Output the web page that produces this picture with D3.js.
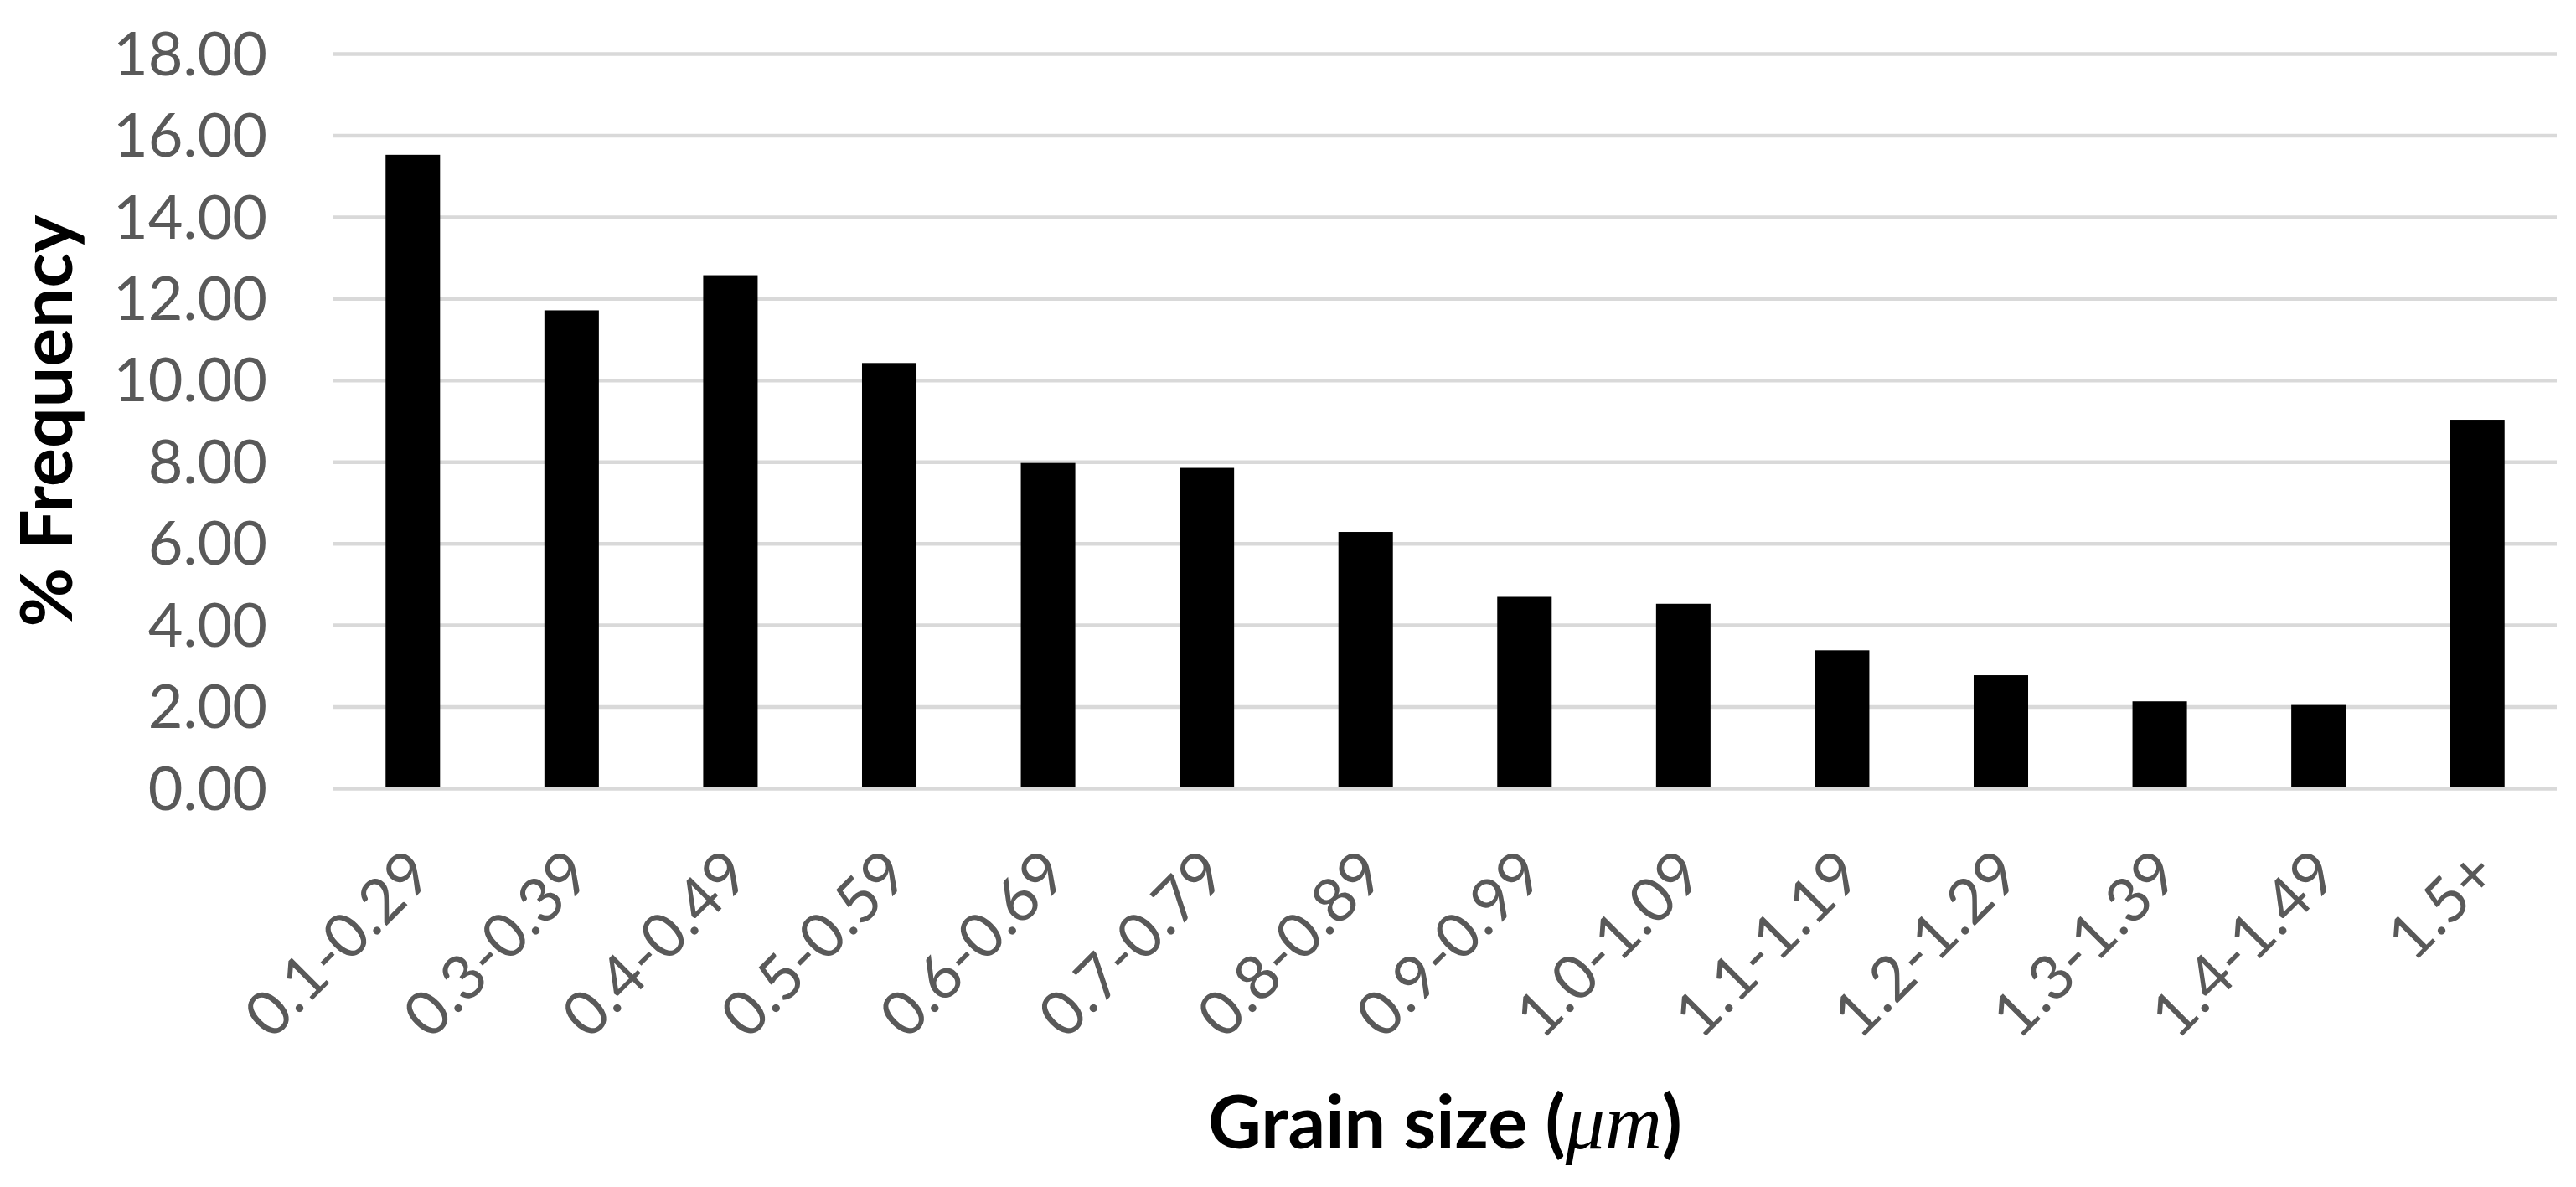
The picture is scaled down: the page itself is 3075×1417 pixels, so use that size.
<!DOCTYPE html>
<html>
<head>
<meta charset="utf-8">
<script src="https://cdn.jsdelivr.net/npm/d3@7"></script>
<style>
  html, body { margin: 0; padding: 0; background: #fff; }
  svg { display: block; }
</style>
</head>
<body>
<div id="chart"></div>
<script>
// grain size bins and their % frequency
var categories = ["0.1-0.29", "0.3-0.39", "0.4-0.49", "0.5-0.59", "0.6-0.69", "0.7-0.79",
    "0.8-0.89", "0.9-0.99", "1.0-1.09", "1.1-1.19", "1.2-1.29", "1.3-1.39", "1.4-1.49", "1.5+"];
var frequency = [15.52, 11.71, 12.57, 10.42, 7.97, 7.85, 6.28, 4.69, 4.52, 3.38, 2.77, 2.13, 2.04, 9.03];
var yTicks = [0, 2, 4, 6, 8, 10, 12, 14, 16, 18];

var totalW = 3075, totalH = 1417;
var margin = { top: 64, right: 23, bottom: 476, left: 398 },
    width = totalW - margin.left - margin.right,
    height = totalH - margin.top - margin.bottom;

var font = "Lato, 'Open Sans', sans-serif";

var svg = d3.select("#chart").append("svg")
    .attr("width", totalW)
    .attr("height", totalH)
    .style("font-family", font);

var g = svg.append("g")
    .attr("transform", "translate(" + margin.left + "," + margin.top + ")");

var x = d3.scaleBand()
    .domain(categories)
    .range([0, width])
    .paddingInner(0.657)
    .paddingOuter(0.3285);

var y = d3.scaleLinear()
    .domain([0, 18])
    .range([height, 0]);

// Y axis + gridlines
var yAxis = g.append("g")
    .call(d3.axisLeft(y)
        .tickValues(yTicks)
        .tickFormat(d3.format(".2f"))
        .tickSize(-width)
        .tickPadding(79));
yAxis.select(".domain").remove();
yAxis.selectAll("line")
    .attr("stroke", "#d9d9d9")
    .attr("stroke-width", 4.5);
yAxis.selectAll("text")
    .attr("fill", "#595959")
    .attr("dy", "0.35em")
    .style("font-size", "72px")
    .style("font-family", font);

// bars
g.selectAll("rect.bar")
    .data(frequency)
    .enter()
    .append("rect")
    .attr("class", "bar")
    .attr("x", function (d, i) { return x(categories[i]); })
    .attr("y", function (d) { return y(d); })
    .attr("width", x.bandwidth())
    .attr("height", function (d) { return y(0) - y(d) - 2; })
    .attr("fill", "#000");

// X axis labels, rotated
var xAxis = g.append("g")
    .attr("transform", "translate(0," + height + ")")
    .call(d3.axisBottom(x).tickSize(0));
xAxis.select(".domain").remove();
xAxis.selectAll("text")
    .attr("y", 0)
    .attr("dy", 0)
    .attr("text-anchor", "end")
    .attr("transform", "translate(27,106) rotate(-45)")
    .attr("fill", "#595959")
    .style("font-size", "74px")
    .style("font-family", font);

// axis titles
svg.append("text")
    .attr("transform", "translate(86," + (margin.top + height / 2) + ") rotate(-90)")
    .attr("text-anchor", "middle")
    .style("font-size", "86px")
    .style("font-weight", "bold")
    .attr("fill", "#000")
    .text("% Frequency");

var xt = svg.append("text")
    .attr("x", margin.left + width / 2)
    .attr("y", 1371)
    .attr("text-anchor", "middle")
    .style("font-size", "88px")
    .style("font-weight", "bold")
    .attr("fill", "#000");
xt.append("tspan").text("Grain size (");
xt.append("tspan")
    .style("font-family", "'Liberation Serif', 'DejaVu Serif', serif")
    .style("font-style", "italic")
    .style("font-weight", "normal")
    .style("font-size", "94px")
    .text("\u03BCm");
xt.append("tspan").text(")");
</script>
</body>
</html>
